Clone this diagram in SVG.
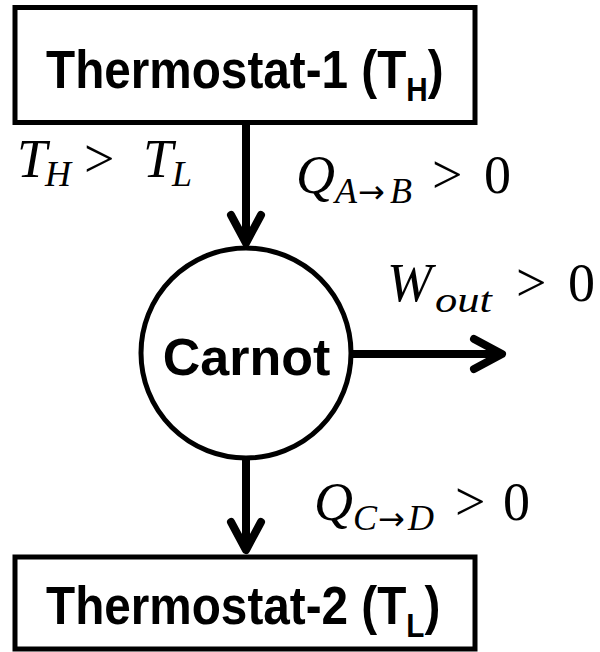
<svg xmlns="http://www.w3.org/2000/svg" width="600" height="652" viewBox="0 0 600 652">
  <defs>
    <style>
      .box { fill: #fff; stroke: #000; stroke-width: 5; }
      .node-label { font-family: "Liberation Sans", Arial, sans-serif; font-weight: bold; fill: #000; }
      .conn { fill: none; stroke: #000; stroke-width: 8; }
      .math { font-family: "Liberation Serif", "Times New Roman", serif; fill: #000; font-size: 54px; }
      .it { font-style: italic; }
      .sub { font-size: 36px; }
      .arr { font-family: "DejaVu Sans", sans-serif; font-size: 32px; }
    </style>
    <marker id="chev" markerUnits="userSpaceOnUse" viewBox="-40 -24 48 48" markerWidth="48" markerHeight="48" refX="0" refY="0" orient="auto" overflow="visible">
      <path d="M-28,-15 L0,0 L-28,15" fill="none" stroke="#000" stroke-width="8" stroke-linecap="round" stroke-linejoin="round"/>
    </marker>
  </defs>
  <rect width="600" height="652" fill="#fff"/>

  <g id="connectors">
    <path class="conn" d="M246,122 L246,243" marker-end="url(#chev)"/>
    <path class="conn" d="M353,354 L502,354" marker-end="url(#chev)"/>
    <path class="conn" d="M246,460 L246,550" marker-end="url(#chev)"/>
  </g>

  <g id="thermostat1">
    <rect class="box" x="15" y="7.5" width="460" height="115"/>
    <text class="node-label" transform="translate(46,88) scale(0.9,1)" x="0" y="0" font-size="53">Thermostat-1 (T<tspan font-size="33" dy="13">H</tspan><tspan dy="-13">)</tspan></text>
  </g>

  <g id="carnot">
    <circle cx="246" cy="353" r="105" fill="#fff" stroke="#000" stroke-width="5"/>
    <text class="node-label" x="246.5" y="375" font-size="52" text-anchor="middle">Carnot</text>
  </g>

  <g id="thermostat2">
    <rect class="box" x="15" y="557" width="460" height="92"/>
    <text class="node-label" transform="translate(46,624) scale(0.9,1)" x="0" y="0" font-size="53">Thermostat-2 (T<tspan font-size="33" dy="13">L</tspan><tspan dy="-13">)</tspan></text>
  </g>

  <g id="labels">
    <text class="math"><tspan class="it" x="17" y="177">T</tspan><tspan class="it sub" x="45" y="186">H</tspan><tspan x="84" y="177">&gt;</tspan><tspan class="it" x="143" y="177">T</tspan><tspan class="it sub" x="172" y="186">L</tspan></text>
    <text class="math"><tspan class="it" x="296" y="193">Q</tspan><tspan class="it sub" x="335" y="203">A</tspan><tspan class="arr" x="358" y="203">→</tspan><tspan class="it sub" x="390" y="203">B</tspan><tspan x="432" y="193">&gt;</tspan><tspan x="484" y="193">0</tspan></text>
    <text class="math"><tspan class="it" x="387" y="301">W</tspan><tspan class="it sub" x="435" y="312" textLength="57" lengthAdjust="spacingAndGlyphs">out</tspan><tspan x="516" y="301">&gt;</tspan><tspan x="568" y="301">0</tspan></text>
    <text class="math"><tspan class="it" x="314" y="520">Q</tspan><tspan class="it sub" x="353" y="530">C</tspan><tspan class="arr" x="378" y="530">→</tspan><tspan class="it sub" x="408" y="530">D</tspan><tspan x="455" y="520">&gt;</tspan><tspan x="503" y="520">0</tspan></text>
  </g>
</svg>
